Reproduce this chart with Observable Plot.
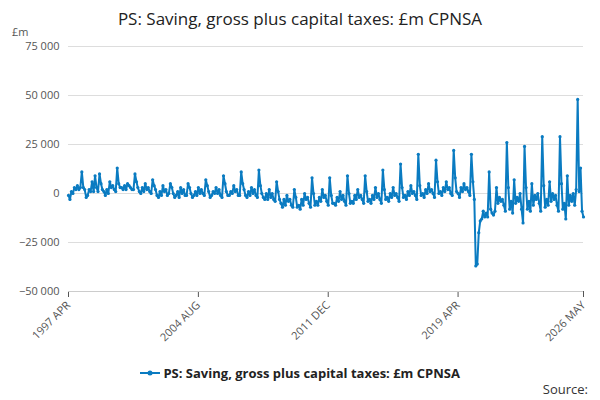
<!DOCTYPE html>
<html><head><meta charset="utf-8">
<script src="https://cdn.jsdelivr.net/npm/d3@7"></script>
<script src="https://cdn.jsdelivr.net/npm/@observablehq/plot@0.6"></script>
<style>body{margin:0;font-family:"Open Sans",sans-serif;background:#fff}
#t{text-align:center;font-size:17px;color:#222;padding-top:7px;height:28px}
#c svg{overflow:visible}
.ab{position:absolute;z-index:5}
#lg{left:0;right:0;top:364px;text-align:center;font-size:13px;font-weight:bold;color:#222}
#src{right:12px;top:380px;font-size:13px;color:#333}
#un{left:12px;top:24px;font-size:11px;color:#555}</style></head>
<body><div id="t">PS: Saving, gross plus capital taxes: £m CPNSA</div><div id="c"></div>
<div id="un" class="ab">£m</div>
<div id="lg" class="ab"><svg width="20" height="10"><line x1="0" y1="5" x2="20" y2="5" stroke="#0a7bc1" stroke-width="2"/><circle cx="10" cy="5" r="2.5" fill="#0a7bc1"/></svg> PS: Saving, gross plus capital taxes: £m CPNSA</div>
<div id="src" class="ab">Source:</div>
<script>
// Fiscal years Apr..Mar, values in £m (estimated)
const fy1997 = [-1000,-3000,1000,0,3000,2000,4000,2000,3000,11000,3000,2000];
const fy1998 = [-2000,-1000,2000,1000,6000,1000,9000,3000,1000,10000,5000,2000];
const fy1999 = [1000,-1000,2000,0,6000,3000,4000,2000,1000,13000,5000,3000];
const fy2000 = [3000,2000,4000,2000,5000,4000,3000,2000,2000,10000,6000,3000];
const fy2001 = [1000,0,3000,1000,5000,2000,3000,1000,0,7000,4000,2000];
const fy2002 = [-1000,-2000,1000,-1000,4000,1000,2000,-1000,0,5000,3000,0];
const fy2003 = [-2000,-1000,1000,-2000,3000,0,2000,-1000,-1000,5000,3000,0];
const fy2004 = [-2000,-1000,1000,-1000,3000,0,2000,0,-1000,7000,4000,1000];
const fy2005 = [-2000,-1000,1000,0,3000,0,2000,-1000,-2000,9000,5000,1000];
const fy2006 = [-1000,-1000,1000,0,4000,1000,2000,-1000,-1000,11000,5000,2000];
const fy2007 = [-1000,-2000,1000,-1000,3000,0,2000,-1000,-2000,12000,4000,0];
const fy2008 = [-2000,-3000,0,-3000,2000,-2000,0,-3000,-4000,6000,1000,-3000];
const fy2009 = [-5000,-7000,-3000,-6000,-1000,-4000,-3000,-6000,-7000,2000,-2000,-7000];
const fy2010 = [-6000,-8000,-3000,-6000,0,-3000,-2000,-5000,-7000,8000,0,-6000];
const fy2011 = [-4000,-6000,-2000,-4000,2000,-2000,-1000,-4000,-6000,8000,-1000,-5000];
const fy2012 = [-5000,-6000,-2000,-4000,1000,-3000,-1000,-4000,-6000,9000,0,-5000];
const fy2013 = [-4000,-5000,-1000,-3000,2000,-2000,-1000,-3000,-5000,9000,1000,-4000];
const fy2014 = [-3000,-5000,-1000,-3000,3000,-2000,0,-3000,-5000,12000,2000,-3000];
const fy2015 = [-2000,-4000,0,-2000,3000,-1000,0,-2000,-4000,15000,3000,-2000];
const fy2016 = [-1000,-3000,1000,-1000,4000,0,1000,-1000,-3000,20000,4000,-1000];
const fy2017 = [0,-2000,2000,0,5000,1000,2000,0,-2000,17000,6000,0];
const fy2018 = [1000,-1000,3000,1000,6000,2000,3000,0,-1000,22000,8000,1000];
const fy2019 = [0,-2000,3000,1000,5000,2000,3000,1000,-1000,20000,6000,-3000];
const fy2020 = [-37000,-36000,-20000,-14000,-13000,-9000,-12000,-10000,-12000,11000,-8000,-10000];
const fy2021 = [-11000,-9000,3000,-5000,-2000,-4000,-3000,-6000,-9000,26000,3000,-8000];
const fy2022 = [-4000,-10000,7000,-5000,-2000,-4000,0,-8000,-15000,24000,3000,-8000];
const fy2023 = [-4000,-9000,5000,-6000,-1000,-3000,0,-5000,-9000,29000,4000,-7000];
const fy2024 = [-3000,-6000,6000,-4000,0,-3000,-1000,-6000,-9000,29000,5000,-8000];
const fy2025 = [-5000,-13000,9000,-6000,-1000,-4000,0,-6000,2000,48000,1000,13000];
const fy2026 = [-9000,-12000];
const years = [fy1997,fy1998,fy1999,fy2000,fy2001,fy2002,fy2003,fy2004,fy2005,fy2006,fy2007,fy2008,fy2009,fy2010,fy2011,fy2012,fy2013,fy2014,fy2015,fy2016,fy2017,fy2018,fy2019,fy2020,fy2021,fy2022,fy2023,fy2024,fy2025,fy2026];
const tickLabels = ["1997 APR","2004 AUG","2011 DEC","2019 APR","2026 MAY"];
const tickDates = [new Date(1997,3,1),new Date(2004,7,1),new Date(2011,11,1),new Date(2019,3,1),new Date(2026,4,1)];
const data = [];
years.forEach((arr,i)=>arr.forEach((v,m)=>data.push({date:new Date(1997+i,3+m,1),value:v})));
const col="#0a7bc1";
const chart = Plot.plot({
  width:600,height:320,marginLeft:68,marginRight:17,marginTop:11,marginBottom:64,
  style:{fontFamily:"Open Sans, sans-serif",fontSize:"11px",color:"#555",overflow:"visible"},
  x:{type:"utc",domain:[tickDates[0],tickDates[4]],ticks:tickDates,tickFormat:(d,i)=>tickLabels[i],tickRotate:-45,label:null,tickSize:6},
  y:{domain:[-50000,75000],ticks:[-50000,-25000,0,25000,50000,75000],tickFormat:d=>d3.format(",")(d).replace(/,/g," "),label:null,tickSize:0},
  marks:[
    Plot.gridY([-50000,-25000,0,25000,50000,75000],{stroke:"#ddd",strokeOpacity:1}),
    Plot.ruleY([-50000],{stroke:"#ccc"}),
    Plot.line(data,{x:"date",y:"value",stroke:col,strokeWidth:2}),
    Plot.dot(data,{x:"date",y:"value",fill:col,r:1.6})
  ]
});
document.getElementById("c").appendChild(chart);
</script></body></html>
